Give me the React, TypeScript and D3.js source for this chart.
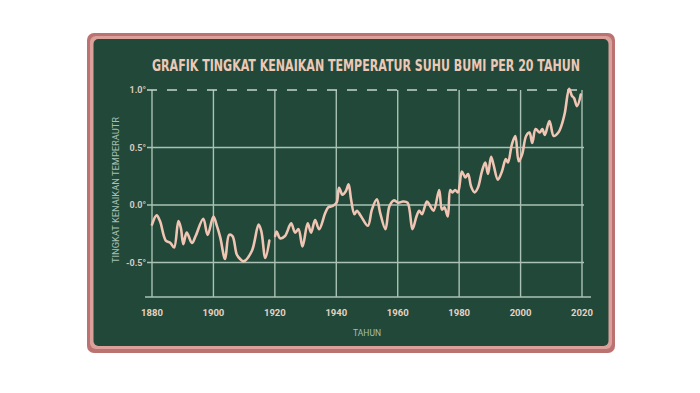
import React, { Component, createRef } from 'react';
import * as d3 from 'd3';

// vertices of the drawn curve (null = gap near 1919)
const years = [
  1880, 1881.5, 1882.6, 1884.5, 1886, 1887.2, 1888.6, 1889.4, 1890.2, 1891.3,
  1893, 1894.2, 1896.7, 1898.1, 1900, 1901.1, 1902.2, 1903.8, 1905.1, 1906.2,
  1907.6, 1908.7, 1909.8, 1912.5, 1914.7, 1915.6, 1916.9, 1918.2, 1919,
  1920.1, 1920.6, 1921.7, 1923.3, 1925.3, 1926.6, 1927.7, 1929, 1930.7, 1931.8,
  1933.1, 1934.4, 1936.4, 1937.4, 1938.7, 1940.1, 1940.9, 1942, 1943.1, 1944,
  1944.8, 1945.9, 1946.7, 1948.1, 1950.3, 1951.6, 1953.2, 1954.3, 1956, 1957.3,
  1958.7, 1960.2, 1961.7, 1963.2, 1964.8, 1966.1, 1967, 1967.9, 1969.5, 1970.6,
  1971.7, 1973.5, 1974.4, 1975.2, 1976.3, 1977.1, 1977.8, 1978.7, 1979.6, 1980.9,
  1982, 1982.9, 1983.9, 1985, 1986.1, 1987.4, 1988.5, 1989.4, 1990.4, 1991.2,
  1992.6, 1993.9, 1995.2, 1995.9, 1997.2, 1998.3, 1999.4, 2000.5, 2001.8, 2002.9,
  2003.8, 2004.9, 2006.2, 2007.1, 2007.9, 2009.4, 2010.8, 2012.3, 2013.3, 2014.4,
  2015.8, 2016.7, 2017.4, 2018.4, 2019.6,
];
const anomalies: (number | null)[] = [
  -0.17, -0.09, -0.14, -0.31, -0.33, -0.37, -0.14, -0.2, -0.34, -0.24,
  -0.33, -0.27, -0.12, -0.26, -0.1, -0.18, -0.28, -0.47, -0.26, -0.27,
  -0.43, -0.47, -0.49, -0.4, -0.17, -0.23, -0.46, -0.31, null,
  -0.27, -0.23, -0.29, -0.27, -0.16, -0.24, -0.21, -0.36, -0.16, -0.24,
  -0.13, -0.21, -0.07, -0.02, -0.01, 0.02, 0.15, 0.09, 0.12, 0.18,
  0.05, -0.08, -0.05, -0.1, -0.18, -0.04, 0.05, -0.07, -0.21, -0.01,
  0.04, 0.02, 0.03, 0.02, -0.21, -0.1, -0.05, -0.08, 0.03, -0.01,
  -0.05, 0.13, -0.04, -0.02, -0.1, 0.13, 0.11, 0.13, 0.11, 0.29,
  0.24, 0.27, 0.16, 0.11, 0.15, 0.29, 0.37, 0.27, 0.42, 0.35,
  0.22, 0.29, 0.4, 0.37, 0.53, 0.6, 0.38, 0.44, 0.6, 0.63,
  0.54, 0.66, 0.63, 0.66, 0.61, 0.73, 0.6, 0.63, 0.69, 0.8,
  1.01, 0.95, 0.93, 0.86, 0.96,
];

const xTicks = [1880, 1900, 1920, 1940, 1960, 1980, 2000, 2020];
const yTicks = [1.0, 0.5, 0.0, -0.5];
const yTickLabels = ['1.0°', '0.5°', '0.0°', '-0.5°'];

const title = 'GRAFIK TINGKAT KENAIKAN TEMPERATUR SUHU BUMI PER 20 TAHUN';
const xTitle = 'TAHUN';
const yTitle = 'TINGKAT KENAIKAN TEMPERAUTR';

class TemperatureChart extends Component {
  svgRef = createRef<SVGSVGElement>();

  componentDidMount = () => {
    this.drawChart();
  };

  drawChart = () => {
    const width = 700;
    const height = 393;
    const chalk = '#f0c5b3';
    const grid = '#a9c2b5';

    const svg = d3.select(this.svgRef.current);
    svg.selectAll('*').remove();
    svg.attr('width', width).attr('height', height);

    const x = d3.scaleLinear().domain([1880, 2020]).range([152, 582]);
    const y = d3.scaleLinear().domain([-0.8, 1.0]).range([297, 90]);

    // board frame
    svg.append('rect').attr('x', 87).attr('y', 33).attr('width', 528).attr('height', 320)
      .attr('rx', 7).attr('fill', '#ba7370');
    svg.append('rect').attr('x', 90).attr('y', 36).attr('width', 522).attr('height', 313)
      .attr('rx', 6).attr('fill', '#dca09b');
    svg.append('rect').attr('x', 93.5).attr('y', 39).attr('width', 515).attr('height', 307)
      .attr('rx', 5).attr('fill', '#22483a');

    svg.append('text')
      .attr('x', 152).attr('y', 71)
      .attr('textLength', 428).attr('lengthAdjust', 'spacingAndGlyphs')
      .attr('font-family', '"Liberation Sans Narrow", "DejaVu Sans Condensed", sans-serif')
      .attr('font-weight', 'bold').attr('font-size', 15.5)
      .attr('fill', '#ecc9b6')
      .text(title);

    // vertical grid
    svg.append('g').selectAll('line').data(xTicks).enter().append('line')
      .attr('x1', d => x(d)).attr('x2', d => x(d))
      .attr('y1', y(1.0)).attr('y2', y(-0.8))
      .attr('stroke', grid).attr('stroke-width', 1.4);

    // horizontal grid
    svg.append('g').selectAll('line').data(yTicks).enter().append('line')
      .attr('x1', 147).attr('x2', x(2020) + 2)
      .attr('y1', d => y(d)).attr('y2', d => y(d))
      .attr('stroke', d => (d === 1.0 ? '#c8d6cc' : grid))
      .attr('stroke-width', 1.4)
      .attr('stroke-dasharray', d => (d === 1.0 ? '10,10' : null));

    // x axis line
    svg.append('line')
      .attr('x1', 145).attr('x2', 591).attr('y1', y(-0.8)).attr('y2', y(-0.8))
      .attr('stroke', grid).attr('stroke-width', 1.6);

    svg.append('g').selectAll('text').data(yTicks).enter().append('text')
      .attr('x', 146).attr('y', d => y(d) + 3)
      .attr('text-anchor', 'end')
      .attr('font-family', 'Roboto, sans-serif').attr('font-weight', 'bold').attr('font-size', 9)
      .attr('fill', '#dcc8bb')
      .text((d, i) => yTickLabels[i]);

    svg.append('g').selectAll('text').data(xTicks).enter().append('text')
      .attr('x', d => x(d)).attr('y', 316)
      .attr('text-anchor', 'middle')
      .attr('font-family', 'Roboto, sans-serif').attr('font-weight', 'bold').attr('font-size', 9.5)
      .attr('fill', '#e6d2c3')
      .text(d => d);

    svg.append('text')
      .attr('x', 367).attr('y', 336).attr('text-anchor', 'middle')
      .attr('font-family', 'Roboto, sans-serif').attr('font-size', 8.5)
      .attr('fill', '#a6c0b3')
      .text(xTitle);

    svg.append('text')
      .attr('transform', 'translate(119,190) rotate(-90)')
      .attr('text-anchor', 'middle')
      .attr('textLength', 146).attr('lengthAdjust', 'spacingAndGlyphs')
      .attr('font-family', 'Roboto, sans-serif').attr('font-size', 9.5)
      .attr('fill', '#a6c0b3')
      .text(yTitle);

    const points = years.map((yr, i) => ({ yr, v: anomalies[i] }));
    const line = d3.line<{ yr: number; v: number | null }>()
      .defined(d => d.v !== null)
      .x(d => x(d.yr))
      .y(d => y(d.v as number))
      .curve(d3.curveCatmullRom.alpha(0.5));

    svg.append('path')
      .datum(points)
      .attr('d', line)
      .attr('fill', 'none')
      .attr('stroke', chalk)
      .attr('stroke-width', 2.6)
      .attr('stroke-linejoin', 'round')
      .attr('stroke-linecap', 'round');
  };

  render = () => {
    return (
      <svg ref={this.svgRef} style={{ position: 'absolute', left: 0, top: 0, background: '#fff' }} />
    );
  };
}

export default function App() {
  return <TemperatureChart />;
}
